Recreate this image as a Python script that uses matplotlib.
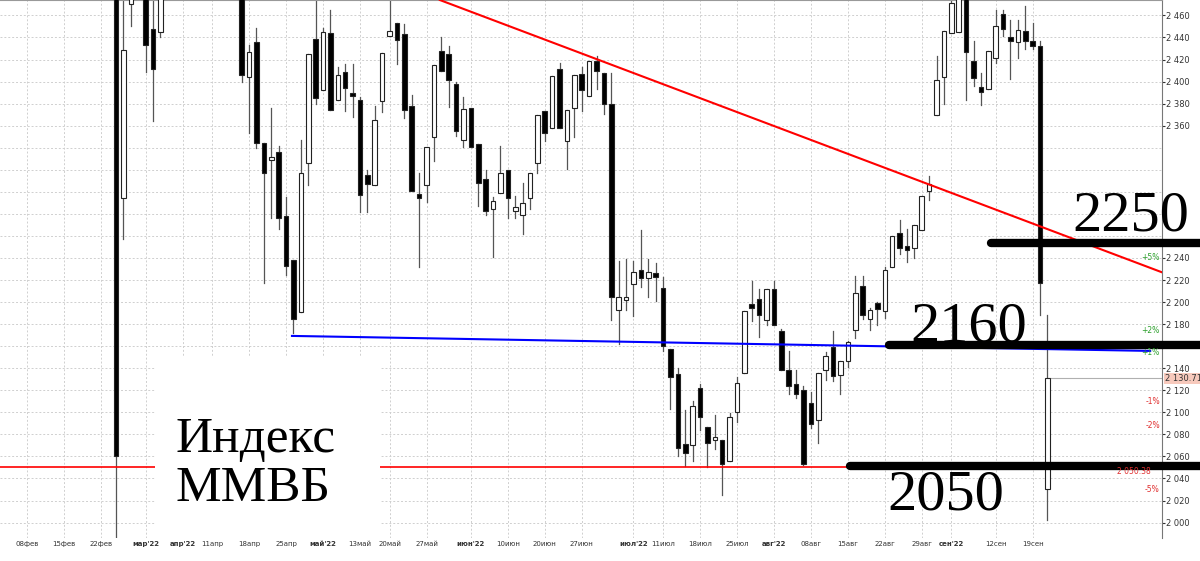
import matplotlib
matplotlib.use("Agg")
import matplotlib.pyplot as plt
from matplotlib.patches import Rectangle

# candle slots (trading-day index, Feb 24 = 0)
opens = [2600,2294,2470,2480,2495,2448,2445,
         2500,2540,2520,2590,2570,2550,2530,2545,2525,2510,
         2500,2404,2436,2344,2330,2336,2278,2238,2191,2326,2439,2392,2444,2383,2409,2390,2383,2315,2306,2382,
         2441,2453,2443,2378,2298,2306,2350,2428,2425,2398,2347,2376,2343,2312,2284,2299,2320,2283,2279,2294,
         2326,2373,2358,2411,2346,2376,2407,2387,2419,2408,2380,2193,2203,2216,2229,2222,2226,2213,2157,2135,
         2071,2070,2122,2087,2076,2075,2056,2100,2136,2198,2203,2184,2212,2174,2138,2126,2120,2108,2093,2138,
         2159,2134,2147,2175,2215,2185,2199,2192,2232,2263,2251,2249,2265,2301,2370,2404,2444,2445,2480,2419,
         2395,2393,2421,2461,2440,2436,2446,2437,2432,2030]
highs = [2650,2480,2490,2495,2500,2473,2490,
         2560,2580,2600,2620,2600,2570,2560,2570,2550,2530,
         2510,2433,2449,2344,2376,2342,2295,2238,2347,2425,2474,2449,2465,2413,2416,2416,2386,2320,2378,2426,
         2474,2453,2452,2388,2317,2341,2415,2440,2432,2400,2386,2376,2343,2320,2295,2342,2320,2296,2308,2317,
         2370,2373,2405,2417,2374,2406,2413,2419,2423,2408,2408,2237,2239,2237,2265,2239,2235,2223,2157,2140,
         2102,2110,2126,2087,2098,2075,2099,2132,2192,2219,2212,2212,2219,2176,2156,2138,2124,2118,2136,2155,
         2174,2147,2165,2224,2224,2195,2200,2232,2260,2274,2266,2270,2296,2314,2423,2446,2480,2490,2490,2437,
         2408,2428,2465,2465,2456,2456,2469,2453,2437,2188]
lows = [1980,2257,2450,2475,2409,2364,2440,
        2490,2510,2500,2560,2540,2510,2500,2520,2495,2490,
        2400,2353,2340,2217,2276,2266,2225,2172,2191,2306,2380,2392,2374,2383,2373,2368,2282,2282,2306,2372,
        2441,2416,2367,2301,2232,2291,2328,2410,2377,2351,2341,2341,2287,2279,2241,2299,2276,2276,2262,2284,
        2317,2346,2358,2358,2321,2350,2373,2387,2393,2371,2184,2162,2193,2187,2214,2205,2201,2156,2103,2060,
        2051,2056,2084,2050,2067,2025,2056,2091,2136,2183,2168,2179,2179,2138,2117,2113,2052,2086,2072,2129,
        2128,2117,2141,2167,2185,2175,2179,2186,2232,2244,2236,2240,2265,2293,2370,2380,2444,2445,2383,2396,
        2379,2393,2417,2441,2402,2421,2430,2430,2188,2002]
closes = [2060,2429,2478,2485,2433,2411,2480,
          2540,2520,2590,2570,2550,2530,2545,2525,2510,2500,
          2406,2427,2344,2317,2331,2276,2233,2185,2317,2425,2385,2445,2374,2406,2394,2387,2297,2307,2365,2426,
          2446,2438,2374,2301,2294,2341,2415,2410,2401,2355,2375,2341,2308,2283,2292,2317,2294,2286,2290,2317,
          2370,2353,2405,2358,2374,2406,2392,2419,2410,2380,2205,2205,2204,2227,2222,2227,2223,2160,2132,2068,
          2063,2106,2096,2072,2077,2053,2096,2127,2192,2195,2188,2212,2179,2138,2124,2117,2053,2089,2136,2151,
          2133,2147,2164,2208,2188,2193,2194,2229,2260,2249,2247,2270,2296,2307,2401,2446,2471,2480,2427,2403,
          2391,2428,2450,2448,2437,2447,2437,2432,2217,2131]

tick_slots = [-12,-7,-2,4,9,13,18,23,28,33,37,42,48,53,58,63,70,74,79,84,89,94,99,104,109,113,119,124]
tick_labels = ["08фев","15фев","22фев","мар'22","апр'22","11апр","18апр","25апр","май'22","13май","20май",
               "27май","июн'22","10июн","20июн","27июн","июл'22","11июл","18июл","25июл","авг'22","08авг",
               "15авг","22авг","29авг","сен'22","12сен","19сен"]
bold_labels = {"мар'22","апр'22","май'22","июн'22","июл'22","авг'22","сен'22"}
y_ticks = [2000,2020,2040,2060,2080,2100,2120,2140,2180,2200,2220,2240,2360,2380,2400,2420,2440,2460]

red_trend = ([43.8, 141.5], [2474, 2227])
blue_trend = ([23.8, 139.9], [2169.3, 2155.7])
support = 2050.38
last_price = 2130.71
levels = [(2253.6, 118.3, "2250", 137.3, 2265), (2161, 104.5, "2160", 115.3, 2164), (2051.4, 99.3, "2050", 112.3, 2011.5)]
pct_labels = [("+5%", 2240, "#2ca02c"), ("+2%", 2174.6, "#2ca02c"), ("+1%", 2154.7, "#2ca02c"),
              ("-1%", 2109.4, "#e03030"), ("-2%", 2087.7, "#e03030"), ("-5%", 2029.7, "#e03030")]

fig = plt.figure(figsize=(12, 5.61), dpi=100)
ax = fig.add_axes([0, 23/561, 1162/1200, 538/561])
XL, XR = -15.7, 141.5
ax.set_xlim(XL, XR)
ax.set_ylim(1986, 2474)

for t in tick_slots:
    ax.axvline(t, color="#cfcfcf", lw=0.7, ls=(0, (2, 2)), zorder=0)
for p in range(1980, 2480, 20):
    ax.axhline(p, color="#cfcfcf", lw=0.7, ls=(0, (2, 2)), zorder=0)

w = 0.62
for i, (o, h, l, c) in enumerate(zip(opens, highs, lows, closes)):
    ax.plot([i, i], [l, h], color="#555555", lw=0.9, zorder=2)
    lo, hi = min(o, c), max(o, c)
    if hi - lo < 1.5:
        lo, hi = lo - 0.8, hi + 0.8
    fc = "black" if c < o else "white"
    ax.add_patch(Rectangle((i - w/2, lo), w, hi - lo, facecolor=fc, edgecolor="#222222", lw=0.8, zorder=3))

ax.plot(*red_trend, color="#ff0000", lw=1.5, zorder=4)
ax.plot(*blue_trend, color="#0000ff", lw=1.5, zorder=4)
ax.plot([XL, XR], [support, support], color="#ff0000", lw=1.2, zorder=4)
ax.plot([126, XR], [last_price, last_price], color="#b0b0b0", lw=0.8, zorder=1)

for lvl, xs, txt, tx, ty in levels:
    ax.plot([xs, 146.7], [lvl, lvl], color="black", lw=6, solid_capstyle="round", zorder=6, clip_on=False)
    ax.text(tx, ty, txt, fontsize=42, family="Liberation Serif", ha="center", va="baseline", zorder=7, clip_on=False)

ax.add_patch(Rectangle((5.3, 1986), 30.4, 2150 - 1986, facecolor="white", edgecolor="none", zorder=5))
ax.text(8, 2064, "Индекс", fontsize=37, family="Liberation Serif", va="baseline", zorder=7)
ax.text(8, 2019.5, "ММВБ", fontsize=37, family="Liberation Serif", va="baseline", zorder=7)

for txt, p, col in pct_labels:
    ax.text(XR - 0.3, p, txt, fontsize=5.5, color=col, ha="right", va="center", zorder=7)
ax.text(XR - 1.5, 2046, "2 050.38", fontsize=5.5, color="#e03030", ha="right", va="center", zorder=7)

ax.yaxis.tick_right()
ax.set_yticks(y_ticks)
ax.set_yticklabels([f"{v//1000} {v%1000:03d}" for v in y_ticks], fontsize=6, color="#333333")
ax.tick_params(axis="y", length=2, pad=1, colors="#333333")
ax.text(XR + 0.4, last_price, "2 130.71", fontsize=6, color="#333333", va="center", ha="left",
        bbox=dict(facecolor="#f7c9bc", edgecolor="none", pad=0.5), clip_on=False, zorder=8)

ax.set_xticks(tick_slots)
ax.set_xticklabels(tick_labels, fontsize=5, color="#333333")
for lab in ax.get_xticklabels():
    if lab.get_text() in bold_labels:
        lab.set_fontweight("bold")
ax.tick_params(axis="x", length=0, pad=2)

for s in ["left", "bottom"]:
    ax.spines[s].set_visible(False)
ax.spines["right"].set_color("#777777")
ax.spines["top"].set_color("#999999")

fig.savefig("out.png", dpi=100)
